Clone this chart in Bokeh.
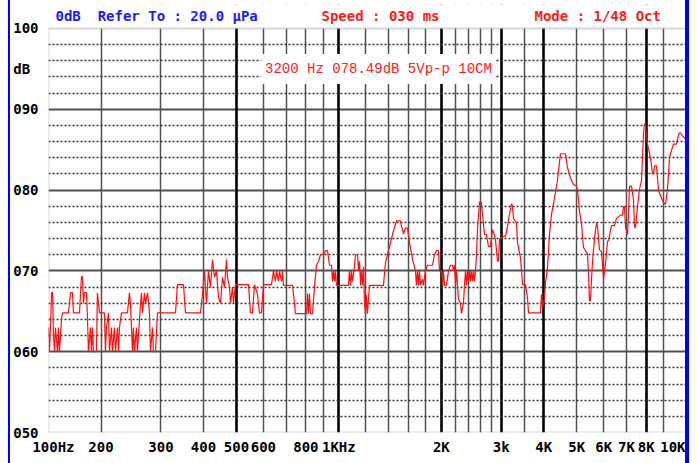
from bokeh.plotting import figure
from bokeh.models import FixedTicker, Grid, Label, Range1d, BoxAnnotation, Spacer
from bokeh.layouts import row
from bokeh.embed import file_html
from bokeh.resources import INLINE

# ---- data (frequency in Hz, level in dB) ----
freq = [140.2, 141.1, 142.1, 143.1, 144.1, 145.0, 146.0, 147.0, 149.0, 150.0, 151.0, 153.1, 154.1,
        160.5, 162.7, 164.9, 166.0, 172.9, 175.2, 176.4, 177.6, 178.8, 181.3, 182.5, 183.7, 186.2,
        187.5, 188.8, 190.0, 193.9, 195.2, 196.6, 197.9, 204.7, 206.1, 207.5, 210.4, 211.8, 214.7,
        216.1, 219.1, 220.6, 223.6, 225.1, 226.6, 229.7, 239.2, 242.4, 244.1, 247.4, 249.1, 250.8,
        254.2, 255.9, 261.2, 263.0, 264.8, 268.4, 270.2, 274.0, 277.6, 279.5, 283.3, 285.2, 289.1,
        293.0, 331.0, 335.5, 349.4, 354.2, 392.0, 394.6, 397.3, 402.7, 408.2, 413.8, 419.4, 425.2,
        430.9, 436.8, 442.8, 448.8, 455.0, 461.1, 467.4, 470.6, 477.0, 480.3, 486.8, 490.1, 496.8,
        542.4, 549.8, 557.3, 564.9, 576.5, 584.3, 592.3, 600.4, 633.7, 642.4, 651.1, 655.5, 664.5,
        669.0, 678.1, 682.7, 687.4, 730.6, 740.5, 745.5, 803.1, 808.5, 814.0, 819.5, 825.1, 836.4,
        847.7, 859.3, 871.0, 882.9, 901.0, 913.3, 925.7, 938.3, 951.3, 957.8, 964.1, 970.6, 977.1,
        983.7, 1067, 1074, 1082, 1089, 1096, 1111, 1119, 1134, 1142, 1150, 1158, 1165, 1173, 1181,
        1189, 1197, 1205, 1213, 1230, 1352, 1370, 1389, 1418, 1447, 1477, 1517, 1528, 1548, 1569,
        1591, 1612, 1645, 1679, 1690, 1702, 1713, 1725, 1736, 1760, 1772, 1796, 1821, 1883, 1909,
        1935, 1962, 1975, 2002, 2016, 2030, 2043, 2071, 2099, 2128, 2157, 2171, 2186, 2201, 2216,
        2231, 2246, 2277, 2292, 2323, 2339, 2355, 2371, 2387, 2403, 2419, 2436, 2452, 2469, 2486,
        2503, 2520, 2537, 2554, 2588, 2624, 2642, 2678, 2714, 2751, 2788, 2827, 2846, 2884, 2924,
        2944, 2964, 3004, 3087, 3129, 3171, 3215, 3236, 3258, 3325, 3348, 3417, 3464, 3534, 3583,
        3607, 3912, 3938, 3965, 4019, 4046, 4101, 4157, 4214, 4300, 4388, 4448, 4478, 4632, 4695,
        4792, 4891, 4991, 5025, 5093, 5163, 5233, 5341, 5377, 5413, 5450, 5487, 5524, 5562, 5637,
        5714, 5753, 5831, 5911, 5991, 6074, 6158, 6197, 6281, 6324, 6454, 6542, 6721, 6813, 6859,
        6906, 6953, 7048, 7095, 7143, 7241, 7339, 7390, 7440, 7541, 7644, 7748, 7801, 7853, 7906,
        7960, 8068, 8234, 8346, 8403, 8459, 8575, 8692, 8811, 8931, 9052, 9113, 9237, 9300, 9363,
        9491, 9620, 9817, 9951, 10019, 10087, 10224, 10433, 10576]

level = [63.0, 60.0, 63.0, 67.3, 67.3, 62.0, 60.0, 63.0, 60.0, 63.0, 60.0, 64.1, 64.8,
         64.8, 67.3, 67.3, 64.8, 64.8, 69.3, 69.3, 66.0, 67.3, 67.3, 64.2, 60.0, 63.0,
         60.0, 63.0, 60.0, 60.0, 67.3, 66.0, 64.8, 64.8, 60.0, 63.0, 64.8, 60.0, 63.0,
         60.0, 63.0, 60.0, 63.0, 60.0, 63.0, 64.8, 64.8, 67.3, 66.0, 60.0, 63.0, 60.0,
         63.0, 60.0, 65.9, 67.3, 64.8, 67.3, 65.9, 67.3, 64.8, 60.0, 63.0, 60.0, 60.0,
         64.8, 64.8, 68.3, 68.3, 64.8, 64.8, 65.9, 67.1, 70.0, 65.9, 70.0, 68.0, 71.4,
         69.2, 70.0, 66.7, 66.0, 69.2, 68.0, 71.4, 69.2, 68.0, 66.0, 68.0, 66.0, 68.3,
         68.3, 64.8, 64.8, 68.3, 67.1, 64.8, 64.8, 68.3, 68.3, 70.0, 68.7, 70.0, 68.7,
         70.0, 68.7, 70.0, 68.2, 68.2, 66.0, 64.7, 64.7, 67.2, 64.7, 67.2, 64.7, 64.7,
         68.0, 70.7, 71.2, 72.0, 72.0, 72.5, 72.5, 70.7, 70.7, 68.7, 70.0, 68.7, 70.0,
         68.2, 68.2, 70.0, 68.2, 70.0, 68.7, 70.5, 72.0, 72.0, 70.0, 71.2, 68.2, 70.0, 68.2, 70.5,
         66.0, 64.7, 67.0, 64.7, 68.2, 68.2, 71.0, 72.0, 73.5, 75.0, 76.2, 76.2, 75.5, 74.6, 75.3,
         75.3, 73.5, 71.5, 70.0, 68.2, 70.0, 68.2, 70.0, 68.2, 69.0, 68.2, 70.0, 70.7, 70.7, 72.0,
         72.5, 72.5, 70.0, 70.0, 68.2, 70.0, 68.2, 68.2, 70.0, 70.7, 70.7, 70.0, 70.7, 68.2, 70.0,
         68.2, 66.5, 66.0, 64.7, 66.0, 68.2, 70.0, 68.2, 70.0, 68.7, 70.0, 68.7, 70.0, 68.7, 70.0,
         68.7, 70.0, 72.0, 75.1, 78.5, 78.5, 77.0, 74.5, 74.5, 73.0, 73.0, 75.1, 74.8, 73.9, 71.2,
         71.2, 73.9, 74.2, 74.3, 75.5, 77.0, 78.3, 78.0, 76.5, 76.0, 73.5, 71.6, 68.3, 68.3, 66.6,
         64.8, 64.8, 67.1, 65.5, 66.6, 68.5, 70.4, 74.5, 77.0, 79.0, 81.2, 83.5, 84.5, 84.5, 82.8,
         81.5, 80.7, 80.5, 80.0, 77.4, 75.8, 72.9, 72.3, 72.1, 69.6, 66.3, 66.3, 69.0, 71.2, 74.0,
         76.0, 75.5, 72.6, 72.4, 69.0, 70.9, 73.7, 73.7, 75.0, 75.6, 75.6, 76.5, 76.9, 76.9, 78.0,
         78.0, 75.4, 74.5, 77.0, 80.5, 80.5, 78.8, 75.4, 75.4, 78.0, 80.1, 81.2, 84.0, 87.0, 88.2,
         88.0, 85.7, 84.0, 82.0, 82.0, 83.0, 83.0, 80.0, 79.3, 78.7, 78.3, 78.3, 80.1, 82.0, 84.0,
         84.9, 85.7, 85.7, 86.8, 87.1, 87.1, 86.7, 86.3, 84.9]

# grid lines and tick labels
grid_freqs = [200, 300, 400, 600, 700, 800, 900, 1200, 1400, 1600, 1800, 2200, 2400, 2600,
              2800, 3500, 5000, 6000, 7000, 9000]
grid_freqs_bold = [500, 1000, 2000, 3000, 4000, 8000]
x_tick_pos = [145, 200, 300, 400, 500, 600, 800, 1000, 2000, 3000, 4000, 5000, 6000, 7000, 8000, 10000]
x_tick_text = ["100Hz", "200", "300", "400", "500", "600", "800", "1KHz", "2K", "3k", "4K",
               "5K", "6K", "7K", "8K", "10K"]
y_major = [60, 70, 80, 90]
y_minor = [52, 54, 56, 58, 62, 64, 66, 68, 72, 74, 76, 78, 82, 84, 86, 88, 92, 94, 96, 98]
y_tick_pos = [50, 60, 70, 80, 90, 95, 100]
y_tick_text = ["050", "060", "070", "080", "090", "dB\u00a0", "100"]
y_bottom, y_top = 50, 100

header_left = "0dB\u00a0\u00a0Refer To : 20.0 \u00b5Pa"
header_mid = "Speed : 030 ms"
header_right = "Mode : 1/48 Oct"
marker_text = "3200 Hz 078.49dB 5Vp-p 10CM"

MONO_B = "DejaVu Sans Mono"

p = figure(width=681, height=463, x_axis_type="log",
           x_range=Range1d(140.2, 10648), y_range=Range1d(y_bottom, 102.97),
           output_backend="svg", toolbar_location=None,
           min_border_left=38, min_border_right=3, min_border_top=4, min_border_bottom=31)
p.styles = {"border-left": "2px solid #0000ff", "border-right": "4px solid #0000ff"}
p.background_fill_color = "white"
p.border_fill_color = "white"
p.outline_line_color = None

# axes
for ax in (p.xaxis[0], p.yaxis[0]):
    ax.axis_line_color = None
    ax.major_tick_line_color = None
    ax.minor_tick_line_color = None
    ax.major_tick_out = 0
    ax.major_tick_in = 0
    ax.minor_tick_out = 0
    ax.minor_tick_in = 0
    ax.major_label_text_font = MONO_B
    ax.major_label_text_font_style = "bold"
    ax.major_label_text_font_size = "14px"
    ax.major_label_text_color = "black"

p.xaxis.ticker = FixedTicker(ticks=x_tick_pos)
p.xaxis.major_label_overrides = {k: v for k, v in zip(x_tick_pos, x_tick_text)}
p.xaxis.major_label_standoff = 6
p.yaxis.ticker = FixedTicker(ticks=y_tick_pos)
p.yaxis.major_label_overrides = {k: v for k, v in zip(y_tick_pos, y_tick_text)}
p.yaxis.major_label_standoff = 10

# grids
p.xgrid.ticker = FixedTicker(ticks=grid_freqs)
p.xgrid.grid_line_color = "#505050"
p.xgrid.grid_line_width = 1.5
p.ygrid.ticker = FixedTicker(ticks=y_major)
p.ygrid.grid_line_color = "#505050"
p.ygrid.grid_line_width = 1.8
p.add_layout(Grid(dimension=0, ticker=FixedTicker(ticks=grid_freqs_bold),
                  grid_line_color="black", grid_line_width=2.6))
p.add_layout(Grid(dimension=1, ticker=FixedTicker(ticks=y_minor),
                  grid_line_color="#333333", grid_line_width=1.3, grid_line_dash="2 2"))

# trace
p.line(freq, level, line_color="#ff1010", line_width=1.2)

# header strip above the 100 dB line, and the chart frame
p.add_layout(BoxAnnotation(bottom=y_top, fill_color="white", fill_alpha=1.0, line_color=None))
p.add_layout(BoxAnnotation(bottom=y_bottom, top=y_top, fill_alpha=0.0,
                           line_color="#777777", line_width=2.0))

# marker readout box
p.add_layout(Label(x=1307, y=95, text=marker_text, text_font="Liberation Mono",
                   text_font_size="14px", text_color="#ff2020", text_align="center",
                   text_baseline="middle", background_fill_color="white",
                   padding=dict(x=4, y=7)))

# header texts
p.add_layout(Label(x=147, y=101.6, text=header_left, text_font=MONO_B,
                   text_font_style="bold", text_font_size="14px", text_color="#1a1aff",
                   text_baseline="middle"))
p.add_layout(Label(x=889, y=101.6, text=header_mid, text_font=MONO_B,
                   text_font_style="bold", text_font_size="14px", text_color="#ff1a1a",
                   text_baseline="middle"))
p.add_layout(Label(x=3756, y=101.6, text=header_right, text_font=MONO_B,
                   text_font_style="bold", text_font_size="14px", text_color="#ff1a1a",
                   text_baseline="middle"))

layout = row(Spacer(width=8, height=463), p)
open("out.html", "w").write(file_html(layout, INLINE))
